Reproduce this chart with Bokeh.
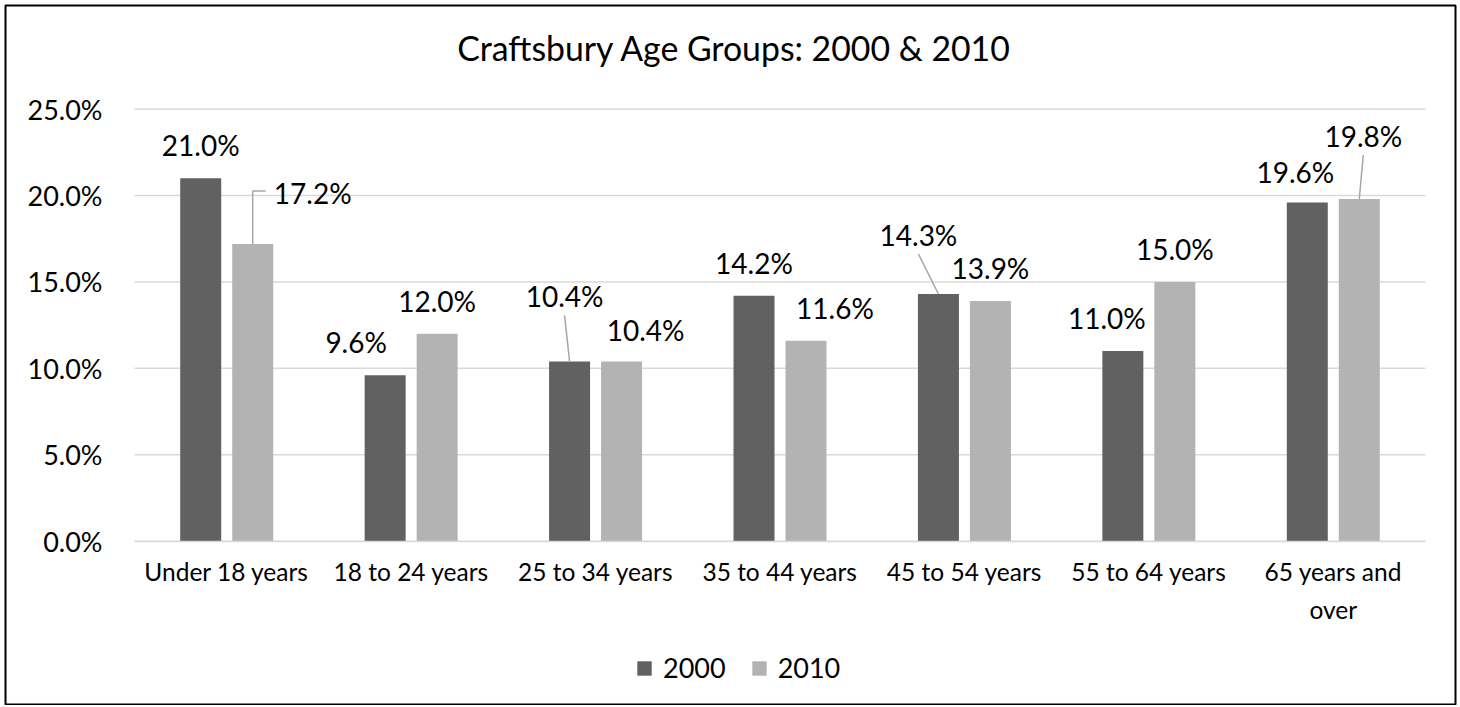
from bokeh.plotting import figure
from bokeh.models import (Range1d, PrintfTickFormatter, FixedTicker, LinearAxis,
                          Legend, LegendItem, ColumnDataSource, Label)
from bokeh.core.properties import value
from bokeh.embed import file_html
from bokeh.resources import INLINE

# ---------------- data ----------------
categories = ["Under 18 years", "18 to 24 years", "25 to 34 years", "35 to 44 years",
              "45 to 54 years", "55 to 64 years", "65 years and over"]
category_lines = [["Under 18 years"], ["18 to 24 years"], ["25 to 34 years"], ["35 to 44 years"],
                  ["45 to 54 years"], ["55 to 64 years"], ["65 years and", "over"]]
series_names = ["2000", "2010"]
values_2000 = [21.0, 9.6, 10.4, 14.2, 14.3, 11.0, 19.6]
values_2010 = [17.2, 12.0, 10.4, 11.6, 13.9, 15.0, 19.8]
y_ticks = [0, 5, 10, 15, 20, 25]
title_text = "Craftsbury Age Groups: 2000 & 2010"

# ---------------- styling / layout (page pixels) ----------------
W, H = 1458, 705
MB_L, MB_R, MB_T, MB_B = 5, 3, 5, 0          # chart border inset
PLOT_L, PLOT_R = 134, 1425                  # plot area x extent
PLOT_T, PLOT_B = 108.6, 540.7               # y of top tick and of zero line
Y_MAX = 25
N = len(categories)
PX_CAT = (PLOT_R - PLOT_L) / N
PX_PCT = (PLOT_B - PLOT_T) / Y_MAX

def X(px):
    return (px - PLOT_L) / PX_CAT

def Y(py):
    return (PLOT_B - py) / PX_PCT

BAR_W = 41 / PX_CAT
BAR_OFF = 26 / PX_CAT
COLORS = ["#616161", "#b3b3b3"]
GRID = "#d9d9d9"
FONT = "Lato"
TXT = "#000000"
LABEL_GAP = 33          # px from bar top to label centre
LABEL_HALF_W = 39       # px, half width of a data label
LINE_SPACING = 33       # px between wrapped category label lines
# manual label shifts (px, +x right, +y down) and leader styles
label_shift = [
    [(0, 0), (-29, 0), (-5, -32), (0, 0), (-20, -26), (-16, 0), (-12, 3)],
    [(60, -18), (0, 0), (24, 2), (29, 0), (0, 0), (0, 0), (4, -30)],
]
leader_kind = [
    [None, None, "straight", None, "straight", None, None],
    ["elbow", None, None, None, None, None, "straight"],
]

p = figure(x_range=Range1d(X(MB_L), X(W - MB_R)), y_range=Range1d(Y(H - MB_B), Y(MB_T)),
           width=W, height=H, output_backend="svg", toolbar_location=None,
           x_axis_location=None, y_axis_location=None,
           min_border_left=MB_L, min_border_right=MB_R, min_border_top=MB_T,
           min_border_bottom=MB_B)
p.outline_line_color = "black"
p.outline_line_width = 2
p.background_fill_color = "white"
p.border_fill_color = "white"
p.xgrid.visible = False
p.ygrid.visible = False

# horizontal gridlines limited to the plot area
p.segment(x0=[0] * len(y_ticks), x1=[N] * len(y_ticks), y0=y_ticks, y1=y_ticks,
          line_color=GRID, line_width=1.5)

yax = LinearAxis(fixed_location=0, ticker=FixedTicker(ticks=y_ticks),
                 formatter=PrintfTickFormatter(format="%.1f%%"),
                 axis_line_color=None, major_tick_line_color=None, minor_tick_line_color=None,
                 major_label_text_font=FONT, major_label_text_font_size="27px",
                 major_label_text_color=TXT, major_label_standoff=26)
p.add_layout(yax, "left")

centers = [i + 0.5 for i in range(N)]
xax = LinearAxis(fixed_location=0, ticker=FixedTicker(ticks=centers), bounds=(0, N),
                 major_label_overrides={c: lines[0] for c, lines in zip(centers, category_lines)},
                 axis_line_color=GRID, axis_line_width=1.5,
                 major_tick_line_color=None, minor_tick_line_color=None,
                 major_label_text_font=FONT, major_label_text_font_size="24.5px",
                 major_label_text_color=TXT, major_label_standoff=10)
p.add_layout(xax, "below")

# continuation lines of wrapped category labels
cx, cy, ct = [], [], []
for c, lines in zip(centers, category_lines):
    for k, line in enumerate(lines[1:], start=1):
        cx.append(c)
        cy.append(Y(576 + k * LINE_SPACING))
        ct.append(line)
p.text(x=cx, y=cy, text=ct, text_align="center", text_baseline="middle",
       text_font=value(FONT), text_font_size="24.5px", text_color=TXT)

series_vals = [values_2000, values_2010]
renderers = []
lab_x, lab_y, lab_t = [], [], []
lx_lines, ly_lines = [], []
for s, vals in enumerate(series_vals):
    off = -BAR_OFF if s == 0 else BAR_OFF
    bx = [c + off for c in centers]
    src = ColumnDataSource(dict(x=bx, top=vals))
    r = p.vbar(x="x", top="top", width=BAR_W, source=src,
               fill_color=COLORS[s], line_color=None)
    renderers.append(r)
    for i, v in enumerate(vals):
        dx, dy = label_shift[s][i]
        lx = bx[i] + dx / PX_CAT
        ly = v + (LABEL_GAP - dy) / PX_PCT
        lab_x.append(lx)
        lab_y.append(ly)
        lab_t.append(f"{v:.1f}%")
        kind = leader_kind[s][i]
        if kind == "straight":
            lx_lines.append([lx, bx[i]])
            ly_lines.append([ly - 19 / PX_PCT, v])
        elif kind == "elbow":
            ey = ly + 2 / PX_PCT
            ex = lx - (LABEL_HALF_W + 8) / PX_CAT
            lx_lines.append([bx[i], bx[i], ex])
            ly_lines.append([v, ey, ey])

p.multi_line(xs=lx_lines, ys=ly_lines, line_color="#a6a6a6", line_width=1.5)
p.text(x=lab_x, y=lab_y, text=lab_t, text_align="center", text_baseline="middle",
       text_font=value(FONT), text_font_size="28px", text_color=TXT)

title = Label(x=X(734), y=Y(47.7), text=title_text, text_align="center",
              text_baseline="middle", text_font=FONT, text_font_size="33.8px",
              text_color=TXT)
p.add_layout(title)

legend = Legend(items=[LegendItem(label=series_names[k], renderers=[renderers[k]]) for k in range(2)],
                orientation="horizontal", location=(635 - MB_L, H - 684), padding=0, margin=0,
                spacing=24, label_standoff=10, glyph_width=18, glyph_height=18,
                label_height=18, label_text_font=FONT, label_text_font_size="27px",
                label_text_color=TXT, border_line_color=None, background_fill_alpha=0)
p.add_layout(legend)

open("out.html", "w").write(file_html(p, INLINE))
